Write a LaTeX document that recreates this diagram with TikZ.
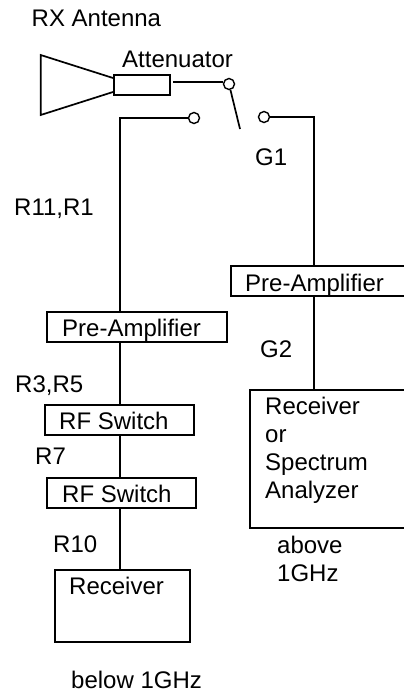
\documentclass[tikz,border=0pt]{standalone}
\usepackage{fontspec}
\setmainfont{Liberation Sans}
\usetikzlibrary{positioning}
\begin{document}
\begin{tikzpicture}[
  x=1pt,y=-1pt,
  font=\fontsize{24}{28}\selectfont,
  box/.style={draw,line width=1.8pt,inner sep=0pt,minimum height=30pt,anchor=north west},
  contact/.style={draw,circle,line width=1.4pt,inner sep=0pt,minimum size=11pt},
  wire/.style={line width=1.7pt},
  lbl/.style={inner sep=0pt,anchor=base west}]
  \useasboundingbox (0,0) rectangle (404,697);
  % antenna and attenuator
  \node[box,minimum width=56pt,minimum height=20pt] (atten) at (113,74) {};
  \coordinate (hornA) at (40.7,55);
  \coordinate (hornB) at (40.7,115);
  \coordinate (hornC) at (113,78);
  \coordinate (hornD) at (113,92);
  \draw[wire] (hornC) -- (hornA) -- (hornB) -- (hornD);
  \node[contact] (swIn) at (229,84) {};
  \node[contact] (swL) at (194,118) {};
  \node[contact] (swR) at (264,117) {};
  \coordinate (atOut) at (173,82);
  \coordinate (swTip) at (240,129);
  \draw[wire] (atOut) -- (swIn.west |- atOut);
  \draw[wire] (swIn) -- (swTip);
  % left path
  \coordinate (busL) at (120,0);
  \node[box,minimum width=180pt] (preL) at (46,311) {};
  \node[box,minimum width=149pt] (swA) at (44,404) {};
  \node[box,minimum width=149pt] (swB) at (46,477) {};
  \node[box,minimum width=135pt,minimum height=72pt] (recL) at (54,569) {};
  \draw[wire] (swL) -| (busL |- preL.north);
  \draw[wire] (busL |- preL.south) -- (busL |- swA.north);
  \draw[wire] (busL |- swA.south) -- (busL |- swB.north);
  \draw[wire] (busL |- swB.south) -- (busL |- recL.north);
  % right path
  \coordinate (busR) at (314,0);
  \node[box,minimum width=180pt] (preR) at (230,265) {};
  \node[box,minimum width=160pt,minimum height=138pt] (recR) at (249,389) {};
  \draw[wire] (swR) -| (busR |- preR.north);
  \draw[wire] (busR |- preR.south) -- (busR |- recR.north);
  % labels
  \node[lbl] (lRx) at (31.5,26) {RX Antenna};
  \node[lbl] (lAtt) at (122,67) {Attenuator};
  \node[lbl] (lG1) at (255,165) {G1};
  \node[lbl] (lR11) at (14,215) {R11,R1};
  \node[lbl] (lPreL) at (62,336) {Pre-Amplifier};
  \node[lbl] (lPreR) at (245,291) {Pre-Amplifier};
  \node[lbl] (lG2) at (260,357) {G2};
  \node[lbl] (lR3) at (15,392) {R3,R5};
  \node[lbl] (lSwA) at (59,429) {RF Switch};
  \node[lbl] (lR7) at (35,464) {R7};
  \node[lbl] (lSwB) at (62,502) {RF Switch};
  \node[lbl] (lR10) at (53,552) {R10};
  \node[lbl] (lRecL) at (69,594) {Receiver};
  \node[lbl,align=left,anchor=north west] (lRecR) at (265,397) {Receiver\\or\\Spectrum\\Analyzer};
  \node[lbl,align=left,anchor=north west] (lAbove) at (277,535.5) {above\\1GHz};
  \node[lbl] (lBelow) at (71,688) {below 1GHz};
\end{tikzpicture}
\end{document}
